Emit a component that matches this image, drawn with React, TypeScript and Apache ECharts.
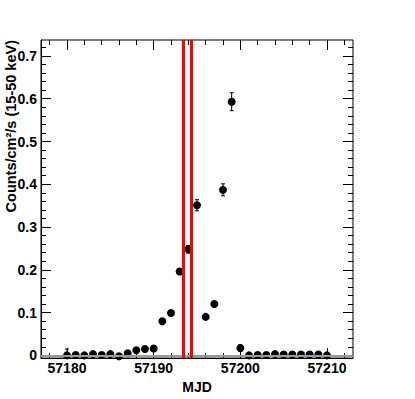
import React, { useEffect, useRef } from "react";
import * as echarts from "echarts";

const mjd = [
  57180, 57181, 57182, 57183, 57184, 57185, 57186, 57187, 57188, 57189, 57190,
  57191, 57192, 57193, 57194, 57195, 57196, 57197, 57198, 57199, 57200,
  57201, 57202, 57203, 57204, 57205, 57206, 57207, 57208, 57209, 57210,
];
const rate = [
  0.0, 0.001, 0.0, 0.003, 0.001, 0.003, -0.002, 0.005, 0.012, 0.015, 0.016,
  0.08, 0.099, 0.196, 0.248, 0.351, 0.09, 0.12, 0.387, 0.593, 0.017,
  0.0, 0.001, 0.001, 0.003, 0.002, 0.002, 0.002, 0.002, 0.002, 0.0,
];
const rateErr = [
  0.015, 0.004, 0.004, 0.004, 0.004, 0.004, 0.004, 0.004, 0.004, 0.004, 0.004,
  0.004, 0.004, 0.006, 0.009, 0.013, 0.004, 0.004, 0.014, 0.021, 0.008,
  0.004, 0.004, 0.004, 0.004, 0.004, 0.004, 0.004, 0.004, 0.004, 0.004,
];
const triggerLines = [57193.41, 57194.3];

const xMajorTicks = [57180, 57190, 57200, 57210];
const xMinorTicks = [
  57178, 57180, 57182, 57184, 57186, 57188, 57190, 57192, 57194, 57196, 57198,
  57200, 57202, 57204, 57206, 57208, 57210, 57212,
];
const yMajorTicks = [0, 0.1, 0.2, 0.3, 0.4, 0.5, 0.6, 0.7];
const yMinorTicks = [
  0, 0.02, 0.04, 0.06, 0.08, 0.1, 0.12, 0.14, 0.16, 0.18, 0.2, 0.22, 0.24, 0.26,
  0.28, 0.3, 0.32, 0.34, 0.36, 0.38, 0.4, 0.42, 0.44, 0.46, 0.48, 0.5, 0.52,
  0.54, 0.56, 0.58, 0.6, 0.62, 0.64, 0.66, 0.68, 0.7, 0.72,
];

const X_MIN = 57177;
const X_MAX = 57213;
const Y_MIN = -0.0063;
const Y_MAX = 0.7373;

const FONT = '"Liberation Sans", Arial, Helvetica, sans-serif';
const yTitle = "Counts/cm\u00b2/s (15-50 keV)";
const xTitle = "MJD";

export default function App() {
  const ref = useRef<HTMLDivElement>(null);

  useEffect(() => {
    if (!ref.current) return;
    const chart = echarts.init(ref.current, null, { renderer: "svg" });

    const tickStyle = { color: "#000", width: 1 };
    const mkX = (pos: "top" | "bottom", major: boolean, main: boolean) => ({
      type: "value",
      min: X_MIN,
      max: X_MAX,
      position: pos,
      axisLine: { show: main, onZero: false, lineStyle: { color: "#000", width: 1 } },
      axisTick: {
        show: true,
        inside: true,
        length: major ? 10 : 5,
        customValues: major ? xMajorTicks : xMinorTicks,
        lineStyle: tickStyle,
      },
      axisLabel: main
        ? {
            show: true,
            customValues: xMajorTicks,
            color: "#000",
            fontFamily: FONT,
            fontWeight: "bold",
            fontSize: 14,
            margin: 3,
            formatter: (v: number) => String(v),
          }
        : { show: false },
      splitLine: { show: false },
      ...(main
        ? {
            name: xTitle,
            nameLocation: "middle",
            nameGap: 20,
            nameTextStyle: {
              color: "#000",
              fontFamily: FONT,
              fontWeight: "bold",
              fontSize: 14,
            },
          }
        : {}),
    });
    const mkY = (pos: "left" | "right", major: boolean, main: boolean) => ({
      type: "value",
      min: Y_MIN,
      max: Y_MAX,
      position: pos,
      axisLine: { show: main, onZero: false, lineStyle: { color: "#000", width: 1 } },
      axisTick: {
        show: true,
        inside: true,
        length: major ? 10 : 5,
        customValues: major ? yMajorTicks : yMinorTicks,
        lineStyle: tickStyle,
      },
      axisLabel:
        main && pos === "left"
          ? {
              show: true,
              customValues: yMajorTicks,
              color: "#000",
              fontFamily: FONT,
              fontWeight: "bold",
              fontSize: 14,
              margin: 4,
              formatter: (v: number) => String(v),
            }
          : { show: false },
      splitLine: { show: false },
    });

    const option: any = {
      animation: false,
      backgroundColor: "#fff",
      grid: {
        left: 41,
        right: 62,
        top: 40,
        bottom: 40,
        show: true,
        borderColor: "#000",
        borderWidth: 1,
        backgroundColor: "transparent",
        containLabel: false,
      },
      xAxis: [
        mkX("bottom", true, true),
        mkX("bottom", false, false),
        mkX("top", true, false),
        mkX("top", false, false),
      ],
      yAxis: [
        mkY("left", true, true),
        mkY("left", false, false),
        mkY("right", true, false),
        mkY("right", false, false),
      ],
      graphic: [
        {
          type: "text",
          x: 11,
          y: 40,
          rotation: Math.PI / 2,
          style: {
            text: yTitle,
            fill: "#000",
            font: `bold 14.5px ${FONT}`,
            align: "right",
            verticalAlign: "middle",
            textAlign: "right",
            textVerticalAlign: "middle",
          },
        },
      ],
      series: [
        {
          type: "custom",
          xAxisIndex: 0,
          yAxisIndex: 0,
          silent: true,
          z: 2,
          data: mjd.map((m, i) => [m, rate[i], rateErr[i]]),
          encode: { x: 0, y: 1 },
          renderItem: (params: any, api: any) => {
            const x = api.value(0);
            const y = api.value(1);
            const e = api.value(2);
            const top = api.coord([x, Math.min(y + e, Y_MAX)]);
            const bot = api.coord([x, Math.max(y - e, Y_MIN)]);
            const hw = 2;
            const style = { stroke: "#000", lineWidth: 1 };
            return {
              type: "group",
              children: [
                { type: "line", shape: { x1: top[0], y1: top[1], x2: bot[0], y2: bot[1] }, style },
                { type: "line", shape: { x1: top[0] - hw, y1: top[1], x2: top[0] + hw, y2: top[1] }, style },
                { type: "line", shape: { x1: bot[0] - hw, y1: bot[1], x2: bot[0] + hw, y2: bot[1] }, style },
              ],
            };
          },
        },
        {
          type: "scatter",
          xAxisIndex: 0,
          yAxisIndex: 0,
          silent: true,
          z: 3,
          symbol: "circle",
          symbolSize: 8,
          itemStyle: { color: "#000", opacity: 1 },
          data: mjd.map((m, i) => [m, rate[i]]),
          markLine: {
            silent: true,
            symbol: ["none", "none"],
            label: { show: false },
            animation: false,
            data: [
              { yAxis: 0, lineStyle: { color: "#9a9a9a", width: 2, type: "solid" } },
              ...triggerLines.map((v) => ({
                xAxis: v,
                lineStyle: { color: "#ff0000", width: 3, type: "solid" },
              })),
            ],
          },
        },
      ],
    };

    chart.setOption(option);
    return () => chart.dispose();
  }, []);

  return (
    <div
      ref={ref}
      style={{ position: "absolute", left: 0, top: 0, width: 415, height: 399, background: "#fff" }}
    />
  );
}
